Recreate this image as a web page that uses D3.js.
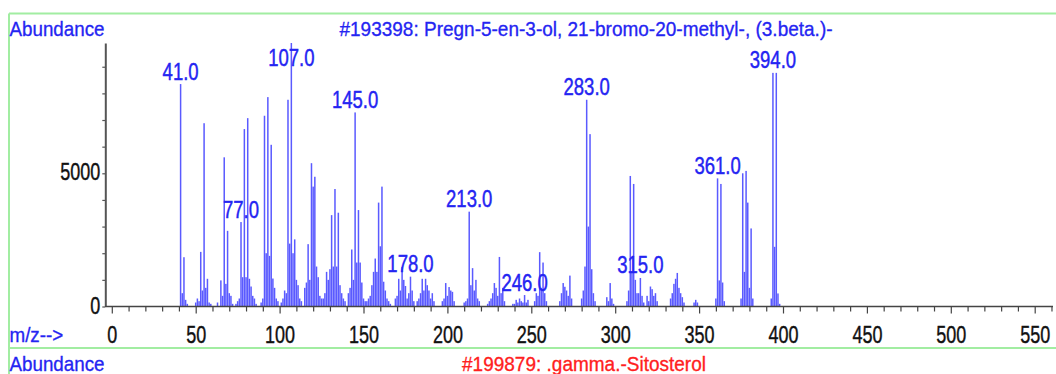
<!DOCTYPE html>
<html><head><meta charset="utf-8">
<script src="https://cdn.jsdelivr.net/npm/d3@7"></script>
<style>
html,body{margin:0;padding:0;background:#fff;}
svg{display:block;font-family:"Liberation Sans",Arial,sans-serif;}
</style>
</head><body><svg id="c" width="1056" height="374"></svg>
<script>
// ---- data ----
const mzValues = [
 41,42,43,44,45,50,51,52,53,54,55,56,57,58,59,63,65,66,67,68,69,70,71,72,74,75,76,77,78,79,80,81,82,83,84,85,86,
 89,90,91,92,93,94,95,96,97,98,99,101,102,103,104,105,106,107,108,109,110,111,112,113,115,116,117,118,119,120,121,
 122,123,124,125,126,127,128,129,130,131,132,133,134,135,136,137,138,139,141,142,143,144,145,146,147,148,149,150,
 151,152,153,154,155,156,157,158,159,160,161,162,163,164,165,166,169,170,171,172,173,174,175,176,177,178,179,180,
 182,183,184,185,186,187,188,189,190,191,192,197,198,199,200,201,202,203,204,210,211,212,213,214,215,216,217,218,219,
 224,225,226,227,228,229,230,231,232,233,234,239,240,241,242,243,244,245,246,247,248,252,253,254,255,256,257,258,259,
 267,268,269,270,271,272,273,274,280,281,282,283,284,285,286,287,288,295,296,297,298,299,
 307,308,309,310,311,312,313,314,315,316,317,319,320,321,322,323,324,325,333,334,335,336,337,338,339,340,341,
 347,348,349,360,361,362,363,364,365,375,376,377,378,379,380,381,382,393,394,395,396,397,398
];
const abundances = [
 8350,500,1850,250,100,150,300,200,2050,600,6880,700,1040,150,100,150,980,400,5600,850,2840,500,400,100,100,200,300,3170,1100,6660,1100,7070,1040,750,400,300,100,
 150,300,7160,2000,7860,1900,6070,1050,700,300,200,150,300,600,500,7760,2360,9891,2000,2520,1000,800,300,200,700,900,2340,1000,5380,4500,4870,
 1500,1100,400,300,300,500,1300,1000,1400,3430,1500,4410,1500,3520,800,500,300,200,500,700,2140,1000,7285,1650,3620,1650,900,300,
 200,200,300,400,800,1300,1800,1300,3900,2260,4500,930,600,300,200,100,300,400,1040,600,1480,1000,770,300,500,1120,600,200,
 200,300,500,1040,600,1040,800,600,300,500,200,200,300,880,400,730,600,550,200,150,200,300,3560,800,1440,600,1000,300,200,
 100,200,300,500,880,700,400,1860,500,700,200,100,100,250,150,300,200,150,430,150,250,200,500,400,2040,700,1650,500,200,
 200,500,880,740,600,400,1160,300,300,600,1500,7760,3000,6470,1400,500,200,350,200,880,300,100,
 200,600,4900,1300,4600,1000,500,500,1070,400,150,400,200,750,650,400,500,200,300,500,850,1040,1260,700,500,350,150,
 150,250,150,300,4810,980,4600,900,200,300,5000,1300,5090,3900,700,2930,300,300,8770,2240,8770,490,100
];
const labeledPeaks = [41, 77, 107, 145, 178, 213, 246, 283, 315, 361, 394];
const xTickValues = d3.range(0, 561, 10);
const xTickLabels = [0, 50, 100, 150, 200, 250, 300, 350, 400, 450, 500, 550];
const yTickValues = d3.range(0, 9001, 1000);
const yTickLabels = [0, 5000];
const yAxisTitle = "Abundance";
const xAxisTitle = "m/z-->";
const titleTop = "#193398: Pregn-5-en-3-ol, 21-bromo-20-methyl-, (3.beta.)-";
const titleBottom = "#199879: .gamma.-Sitosterol";

// ---- layout ----
const svg = d3.select("#c");
const x = d3.scaleLinear().domain([0, 400]).range([111.8, 783]);
const y = d3.scaleLinear().domain([0, 9891]).range([306.5, 43]).clamp(true);
const yAxisX = 105.3, xAxisEnd = 1053;
const blue = "#2424f2", barBlue = "#5a5aff", green = "#a2eda2";
const peaks = mzValues.map((m, i) => ({m, v: abundances[i]}));

// frame
const frame = svg.append("g").attr("stroke", green).attr("stroke-width", 2).attr("fill", "none");
frame.append("line").attr("x1", 9).attr("x2", 1056).attr("y1", 13.5).attr("y2", 13.5);
frame.append("line").attr("x1", 9).attr("x2", 1056).attr("y1", 348).attr("y2", 348);
frame.append("line").attr("x1", 9).attr("x2", 9).attr("y1", 13.5).attr("y2", 374);

// bars
svg.append("g").selectAll("rect").data(peaks).join("rect")
  .attr("x", d => x(d.m) - 0.75).attr("width", 1.5)
  .attr("y", d => y(d.v)).attr("height", d => y(0) - y(d.v))
  .attr("fill", barBlue);

// y axis
const yAxis = svg.append("g").attr("transform", `translate(${yAxisX},0)`)
  .call(d3.axisLeft(y).tickValues(yTickValues).tickSize(3).tickSizeOuter(0)
    .tickFormat(d => yTickLabels.includes(d) ? d : ""));
yAxis.select(".domain").attr("stroke", "#555").attr("stroke-width", 2);
yAxis.selectAll(".tick line").attr("stroke", "#555").attr("stroke-width", 1.2);
yAxis.selectAll(".tick text").attr("x", null).attr("dy", null)
  .attr("font-size", 18).attr("fill", "#111").attr("stroke", "#111").attr("stroke-width", 0.3)
  .attr("text-anchor", "end")
  .attr("transform", "translate(-5,6.5) scale(1,1.35)");

// x axis
const xAxis = svg.append("g").attr("transform", `translate(0,${y(0)})`)
  .call(d3.axisBottom(x).tickValues(xTickValues).tickSizeOuter(0)
    .tickSize(5).tickFormat(d => xTickLabels.includes(d) ? d : ""));
xAxis.select(".domain").attr("d", `M${yAxisX},0H${xAxisEnd}`).attr("stroke", "#444").attr("stroke-width", 1.6);
xAxis.selectAll(".tick line").attr("stroke", "#444").attr("stroke-width", 1.2)
  .attr("y2", d => d % 50 === 0 ? 7 : 5);
xAxis.selectAll(".tick text").attr("y", null).attr("dy", null)
  .attr("font-size", 18).attr("fill", "#111").attr("stroke", "#111").attr("stroke-width", 0.3)
  .attr("transform", "translate(0,36.5) scale(1,1.35)");

// peak labels
const labelData = peaks.filter(d => labeledPeaks.includes(d.m));
svg.append("g").selectAll("text").data(labelData).join("text")
  .attr("transform", d => `translate(${x(d.m)},${Math.max(y(d.v) - 4.5, 66)}) scale(1,1.3)`)
  .attr("text-anchor", "middle").attr("font-size", 18.5).attr("fill", blue)
  .attr("stroke", blue).attr("stroke-width", 0.35)
  .text(d => d.m.toFixed(1));

// titles
function txt(s, tx, ty, anchor, color, size, sy) {
  svg.append("text").attr("transform", `translate(${tx},${ty}) scale(1,${sy})`)
    .attr("text-anchor", anchor).attr("font-size", size).attr("fill", color)
    .attr("stroke", color).attr("stroke-width", 0.3).text(s);
}
txt(yAxisTitle, 9.5, 36, "start", blue, 18.8, 1.12);
txt(titleTop, 586, 35.5, "middle", blue, 19, 1.1);
txt(xAxisTitle, 9.5, 341.5, "start", blue, 18.8, 1.12);
txt(yAxisTitle, 9.5, 370.5, "start", blue, 18.8, 1.12);
txt(titleBottom, 584, 371, "middle", "#ff2020", 19, 1.1);
</script>
</body></html>
